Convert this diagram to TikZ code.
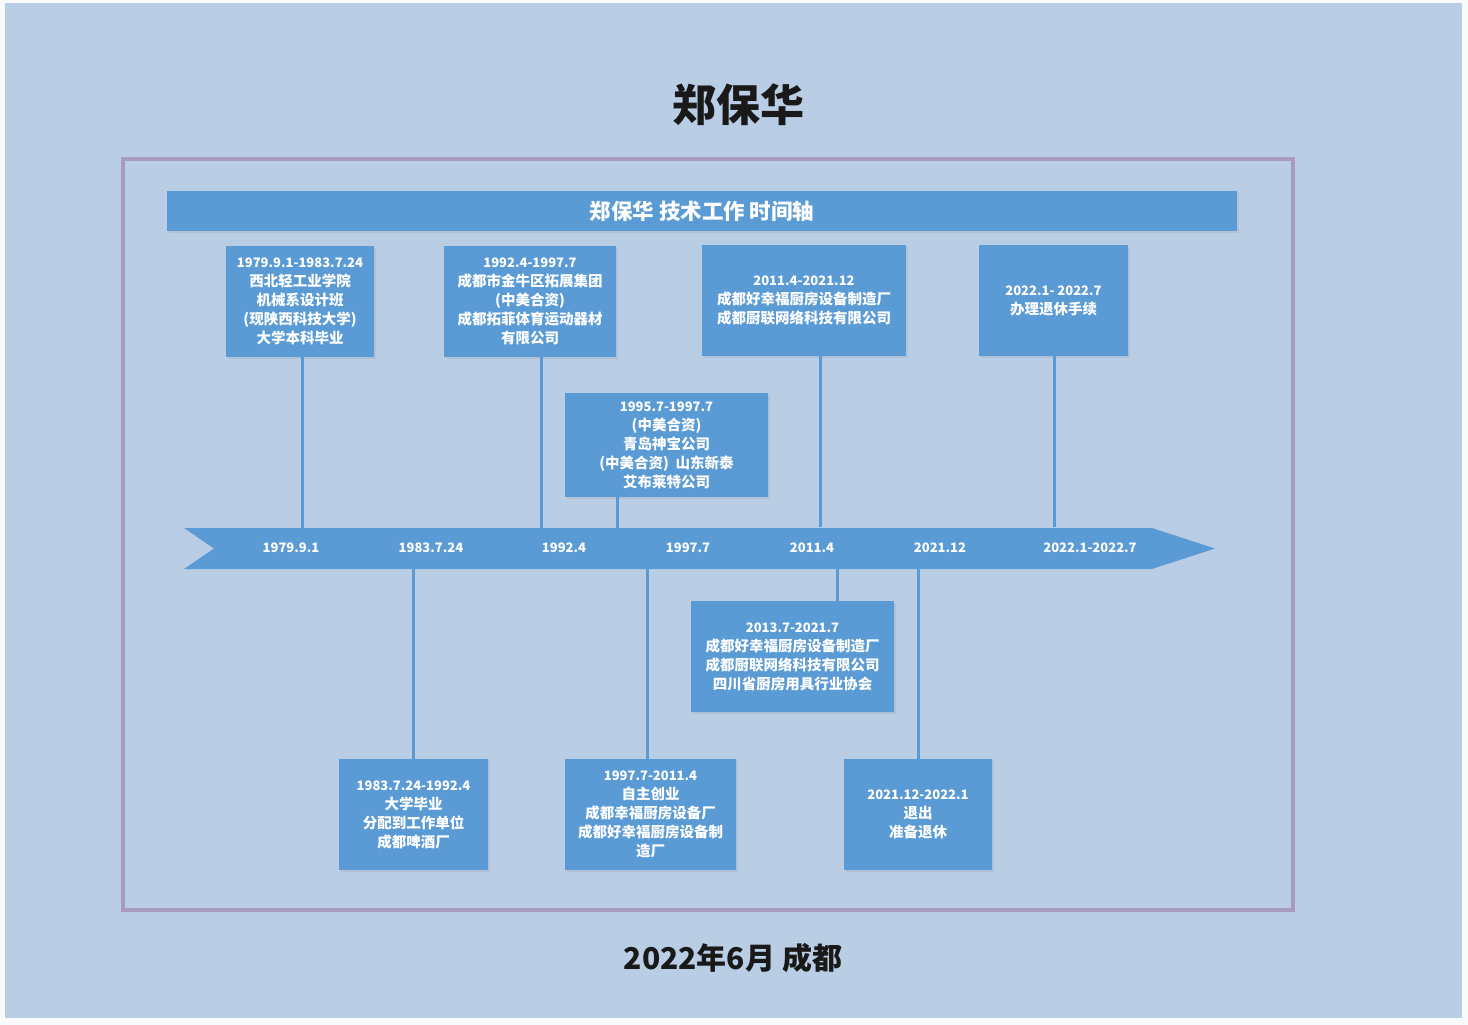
\documentclass[tikz,border=0pt]{standalone}
\usepackage{fontspec}
\setmainfont{Noto Sans CJK SC}
\usetikzlibrary{shadows}
\definecolor{panel}{HTML}{B9CDE5}
\definecolor{boxblue}{HTML}{5B9BD5}
\definecolor{framepurple}{HTML}{A99BBD}
\newcommand{\period}[1]{{\fontsize{13}{19}\selectfont #1}}

\begin{document}
\begin{tikzpicture}[x = 1pt, y = -1pt,
  card/.style = {rectangle, fill=boxblue, text=white, align=center, inner sep=0pt,
    font=\fontsize{14.5}{19}\selectfont\bfseries,
    drop shadow={shadow xshift=2pt, shadow yshift=-2pt, opacity=0.15}},
  link/.style = {boxblue, line width=3pt},
  date/.style = {text=white, font=\fontsize{13}{15}\selectfont\bfseries}]

\useasboundingbox (0, 0) rectangle (1468, 1025);
\fill[white!90!panel] (0, 0) rectangle (1468, 1025);
\fill[panel] (5, 3) rectangle (1462, 1018);
\draw[framepurple, line width=4pt] (123, 159) rectangle (1293, 910);

\node[font=\fontsize{44}{48}\selectfont\bfseries, text=black!90] (name) at (738, 105) {郑保华};

\node[card, minimum width=1070pt, minimum height=40pt, font=\fontsize{21.5}{24}\selectfont\bfseries] (bar) at (702, 211) {郑保华 技术工作 时间轴};

% time axis
\fill[boxblue] (184, 528) -- (1152, 528) -- (1215, 548.5) -- (1152, 569) -- (184, 569) -- (214, 548.5) -- cycle;

\node[date] (d1) at (291, 548) {1979.9.1};
\node[date] (d2) at (431, 548) {1983.7.24};
\node[date] (d3) at (564, 548) {1992.4};
\node[date] (d4) at (688, 548) {1997.7};
\node[date] (d5) at (812, 548) {2011.4};
\node[date] (d6) at (940, 548) {2021.12};
\node[date] (d7) at (1090, 548) {2022.1-2022.7};

% cards above
\node[card, minimum width=148pt, minimum height=111pt] (b1) at (300, 301.5) {\period{1979.9.1-1983.7.24}\\西北轻工业学院\\机械系设计班\\(现陕西科技大学)\\大学本科毕业};
\node[card, minimum width=172pt, minimum height=111pt] (b2) at (530, 301.5) {\period{1992.4-1997.7}\\成都市金牛区拓展集团\\(中美合资)\\成都拓菲体育运动器材\\有限公司};
\node[card, minimum width=203pt, minimum height=104pt] (b3) at (666.5, 445) {\period{1995.7-1997.7}\\(中美合资)\\青岛神宝公司\\(中美合资)\ \ 山东新泰\\艾布莱特公司};
\node[card, minimum width=204pt, minimum height=111pt] (b4) at (804, 300.5) {\period{2011.4-2021.12}\\成都好幸福厨房设备制造厂\\成都厨联网络科技有限公司};
\node[card, minimum width=149pt, minimum height=111pt] (b5) at (1053.5, 300.5) {\period{2022.1- 2022.7}\\办理退休手续};

% cards below
\node[card, minimum width=203pt, minimum height=111pt] (b6) at (792.5, 656.5) {\period{2013.7-2021.7}\\成都好幸福厨房设备制造厂\\成都厨联网络科技有限公司\\四川省厨房用具行业协会};
\node[card, minimum width=149pt, minimum height=111pt] (b7) at (413.5, 814.5) {\period{1983.7.24-1992.4}\\大学毕业\\分配到工作单位\\成都啤酒厂};
\node[card, minimum width=171pt, minimum height=111pt] (b8) at (650.5, 814.5) {\period{1997.7-2011.4}\\自主创业\\成都幸福厨房设备厂\\成都好幸福厨房设备制\\造厂};
\node[card, minimum width=148pt, minimum height=111pt] (b9) at (918, 814.5) {\period{2021.12-2022.1}\\退出\\准备退休};

% ticks on the axis
\coordinate (t1) at (302, 528);
\coordinate (t2) at (541, 528);
\coordinate (t3) at (617, 528);
\coordinate (t4) at (820, 527);
\coordinate (t5) at (1054, 527);
\coordinate (t6) at (837, 569);
\coordinate (t7) at (413, 569);
\coordinate (t8) at (647, 569);
\coordinate (t9) at (918, 569);

\draw[link] (t1) -- (t1 |- b1.south);
\draw[link] (t2) -- (t2 |- b2.south);
\draw[link] (t3) -- (t3 |- b3.south);
\draw[link] (t4) -- (t4 |- b4.south);
\draw[link] (t5) -- (t5 |- b5.south);
\draw[link] (t6) -- (t6 |- b6.north);
\draw[link] (t7) -- (t7 |- b7.north);
\draw[link] (t8) -- (t8 |- b8.north);
\draw[link] (t9) -- (t9 |- b9.north);

\node[font=\fontsize{30}{34}\selectfont\bfseries, text=black!90] (place) at (733, 958) {2022年6月 成都};

\end{tikzpicture}
\end{document}
